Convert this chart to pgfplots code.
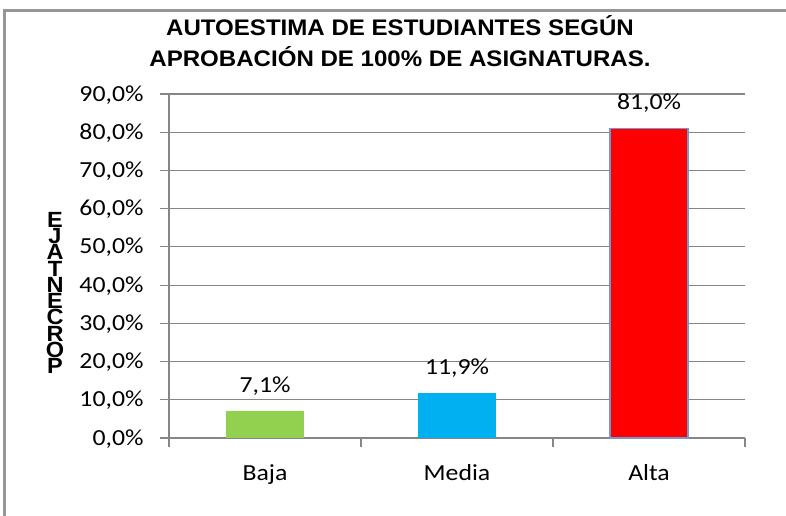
\documentclass[border=0pt]{standalone}
\usepackage{fontspec}
\usepackage{pgfplots}
\pgfplotsset{compat=1.18}
\setmainfont{Carlito}
\newfontfamily\tickfont{Carlito}[FakeStretch=1.12]
\newfontfamily\titlefont{Liberation Sans}[FakeStretch=1.07]
\definecolor{gridgray}{RGB}{134,134,134}
\definecolor{framegray}{RGB}{150,150,150}
\definecolor{cgreen}{RGB}{146,208,80}
\definecolor{cblue}{RGB}{0,176,240}
\definecolor{cred}{RGB}{255,0,0}
\definecolor{cedge}{RGB}{120,150,205}
\begin{document}
\begin{tikzpicture}[x=1pt,y=1pt]
\useasboundingbox (0,0) rectangle (786,515);
\fill[white] (0,0) rectangle (786,515);
\draw[framegray, line width=3pt] (4.5,-5) -- (4.5,504.5) -- (800,504.5);
\begin{axis}[
  at={(169pt,77pt)}, anchor=south west,
  scale only axis, width=576pt, height=344pt,
  xmin=-0.5, xmax=2.5, ymin=0, ymax=90,
  axis x line*=bottom, axis y line*=left,
  axis line style={gridgray, line width=1.2pt},
  ybar, bar width=78pt,
  xtick={0,1,2}, xticklabels={Baja,Media,Alta},
  minor xtick={-0.5,0.5,1.5,2.5},
  major x tick style={draw=none},
  minor x tick style={gridgray, line width=1.2pt},
  ytick={0,10,...,90},
  y tick style={gridgray, line width=1.2pt},
  tick align=outside, major tick length=9pt, minor tick length=9pt,
  ymajorgrids, major grid style={gridgray, line width=1.2pt},
  /pgf/number format/assume math mode=true,
  yticklabel={\pgfmathprintnumber[fixed,fixed zerofill,precision=1,use comma]{\tick}\%},
  yticklabel style={font=\tickfont\fontsize{23}{26}\selectfont, anchor=base east, yshift=-7pt, xshift=-13pt},
  xticklabel style={font=\tickfont\fontsize{23}{26}\selectfont, anchor=base, yshift=-33pt},
  nodes near coords={\pgfmathprintnumber[fixed,fixed zerofill,precision=1,use comma]{\pgfplotspointmeta}\%},
  nodes near coords style={font=\tickfont\fontsize{23}{26}\selectfont, anchor=base, yshift=18.5pt},
  clip=false,
]
\addplot[fill=cgreen, draw=none, bar shift=0pt] coordinates {(0,7.1)};
\addplot[fill=cblue, draw=none, bar shift=0pt] coordinates {(1,11.9)};
\addplot[fill=cred, draw=cedge, line width=1.5pt, bar shift=0pt] coordinates {(2,81.0)};
\end{axis}
\node[font=\titlefont\bfseries\fontsize{22.5}{31}\selectfont, align=center, anchor=center] at (400,474) {AUTOESTIMA DE ESTUDIANTES SEGÚN\\APROBACIÓN DE 100\% DE ASIGNATURAS.};
\node[font=\titlefont\bfseries\fontsize{22}{14.8}\selectfont, align=center, anchor=center, inner sep=0pt] at (55,222) {E\\J\\A\\T\\N\\E\\C\\R\\O\\P};
\end{tikzpicture}
\end{document}
